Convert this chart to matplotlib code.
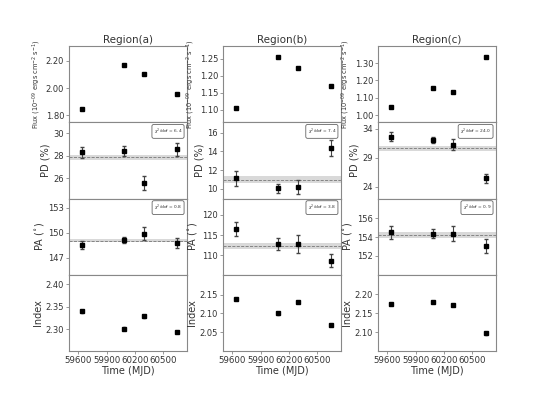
import numpy as np
import matplotlib.pyplot as plt

# Observation times (MJD)
mjd = [59637, 60083, 60295, 60644]

regions = ['Region(a)', 'Region(b)', 'Region(c)']

# Flux (1e-9 erg cm^-2 s^-1)
flux_a = [1.851, 2.171, 2.102, 1.954]
flux_b = [1.106, 1.257, 1.223, 1.169]
flux_c = [1.047, 1.159, 1.132, 1.334]
flux_err = [0.004, 0.003, 0.004]

# Polarization degree (%)
pd_a = [28.3, 28.42, 25.56, 28.6]
pd_a_err = [0.47, 0.45, 0.6, 0.58]
pd_b = [11.1, 10.03, 10.17, 14.35]
pd_b_err = [0.77, 0.48, 0.75, 0.82]
pd_c = [32.62, 31.98, 31.24, 25.43]
pd_c_err = [0.72, 0.5, 0.92, 0.78]

# Polarization angle (deg)
pa_a = [148.56, 149.16, 149.92, 148.8]
pa_a_err = [0.52, 0.4, 0.76, 0.64]
pa_b = [116.5, 112.75, 112.75, 108.65]
pa_b_err = [1.75, 1.4, 2.3, 1.5]
pa_c = [154.53, 154.38, 154.38, 153.07]
pa_c_err = [0.69, 0.5, 0.8, 0.78]

# Photon index
idx_a = [2.340, 2.301, 2.329, 2.294]
idx_b = [2.138, 2.100, 2.131, 2.068]
idx_c = [2.174, 2.180, 2.172, 2.097]
idx_err = [0.003, 0.003, 0.003]

# constant fits: (mean, 1-sigma, chi2/dof)
pd_fit = [(27.86, 0.22, 6.4), (10.96, 0.35, 7.4), (30.62, 0.4, 24.0)]
pa_fit = [(149.08, 0.2, 0.8), (112.2, 0.75, 3.8), (154.21, 0.28, 0.9)]

flux = [flux_a, flux_b, flux_c]
pd = [pd_a, pd_b, pd_c]
pd_err = [pd_a_err, pd_b_err, pd_c_err]
pa = [pa_a, pa_b, pa_c]
pa_err = [pa_a_err, pa_b_err, pa_c_err]
idx = [idx_a, idx_b, idx_c]

# axis ranges and ticks
flux_lim = [(1.75, 2.31), (1.063, 1.288), (0.96, 1.398)]
flux_ticks = [[1.80, 2.00, 2.20], [1.10, 1.15, 1.20, 1.25], [1.00, 1.10, 1.20, 1.30]]
pd_lim = [(24.2, 30.98), (8.96, 17.1), (21.98, 35.1)]
pd_ticks = [[26, 28, 30], [10, 12, 14, 16], [24, 29, 34]]
pa_lim = [(145.0, 154.1), (105.1, 124.1), (150.0, 158.1)]
pa_ticks = [[147, 150, 153], [110, 115, 120], [152, 154, 156]]
idx_lim = [(2.252, 2.4207), (1.999, 2.204), (2.051, 2.251)]
idx_ticks = [[2.30, 2.35, 2.40], [2.05, 2.10, 2.15], [2.10, 2.15, 2.20]]

fig = plt.figure(figsize=(5.53, 3.95), dpi=100)

lefts = [0.1248, 0.403, 0.6835]
w = 0.2134
top = 0.8835
bot = 0.1114
h = (top - bot) / 4

spine_col = '#888888'
tick_col = '#333333'

def style(ax):
    for s in ax.spines.values():
        s.set_color(spine_col)
        s.set_linewidth(0.8)
    ax.tick_params(axis='both', colors=spine_col, labelcolor=tick_col,
                   labelsize=6, length=2, width=0.6, pad=1.5)
    ax.set_xlim(59500, 60750)

def chi_box(ax, val):
    ax.text(0.96, 0.88, r'$\chi^2$/dof = %.1f' % val, transform=ax.transAxes,
            fontsize=3.2, ha='right', va='center', color='#333333',
            bbox=dict(boxstyle='round,pad=0.4', fc='white', ec='#666666', lw=0.6))

for i in range(3):
    axs = []
    for j in range(4):
        ax = fig.add_axes([lefts[i], top - (j + 1) * h, w, h])
        style(ax)
        axs.append(ax)
    ax1, ax2, ax3, ax4 = axs

    ax1.errorbar(mjd, flux[i], yerr=flux_err[i], fmt='s', color='black',
                 ms=2.5, ecolor='#444444', elinewidth=0.8, capsize=1)
    ax1.set_ylim(*flux_lim[i])
    ax1.set_yticks(flux_ticks[i])
    ax1.set_yticklabels(['%.2f' % t for t in flux_ticks[i]])
    ax1.set_ylabel(r'Flux (10$^{-09}$ ergs cm$^{-2}$ s$^{-1}$)', fontsize=4.8,
                   color=tick_col, labelpad=2)
    ax1.set_title(regions[i], fontsize=7.5, color=tick_col, pad=2)

    m, s, c = pd_fit[i]
    ax2.axhspan(m - s, m + s, color='#d9d9d9', lw=0)
    ax2.axhline(m, color='#777777', ls='--', lw=0.6)
    ax2.errorbar(mjd, pd[i], yerr=pd_err[i], fmt='s', color='black',
                 ms=2.5, ecolor='#444444', elinewidth=0.8, capsize=1.2)
    ax2.set_ylim(*pd_lim[i])
    ax2.set_yticks(pd_ticks[i])
    ax2.set_ylabel('PD (%)', fontsize=7, color=tick_col, labelpad=2)
    chi_box(ax2, c)

    m, s, c = pa_fit[i]
    ax3.axhspan(m - s, m + s, color='#d9d9d9', lw=0)
    ax3.axhline(m, color='#777777', ls='--', lw=0.6)
    ax3.errorbar(mjd, pa[i], yerr=pa_err[i], fmt='s', color='black',
                 ms=2.5, ecolor='#444444', elinewidth=0.8, capsize=1.2)
    ax3.set_ylim(*pa_lim[i])
    ax3.set_yticks(pa_ticks[i])
    ax3.set_ylabel(r'PA ($^{\circ}$)', fontsize=7, color=tick_col, labelpad=2)
    chi_box(ax3, c)

    ax4.errorbar(mjd, idx[i], yerr=idx_err[i], fmt='s', color='black',
                 ms=2.5, ecolor='#444444', elinewidth=0.8, capsize=1)
    ax4.set_ylim(*idx_lim[i])
    ax4.set_yticks(idx_ticks[i])
    ax4.set_yticklabels(['%.2f' % t for t in idx_ticks[i]])
    ax4.set_ylabel('Index', fontsize=7, color=tick_col, labelpad=2)

    for ax in (ax1, ax2, ax3):
        ax.tick_params(axis='x', bottom=False, labelbottom=False)
    ax4.set_xticks([59600, 59900, 60200, 60500])
    ax4.tick_params(axis='x', labelsize=6.2)
    ax4.set_xlabel('Time (MJD)', fontsize=7, color=tick_col, labelpad=1)

fig.savefig('out.png', dpi=100)
